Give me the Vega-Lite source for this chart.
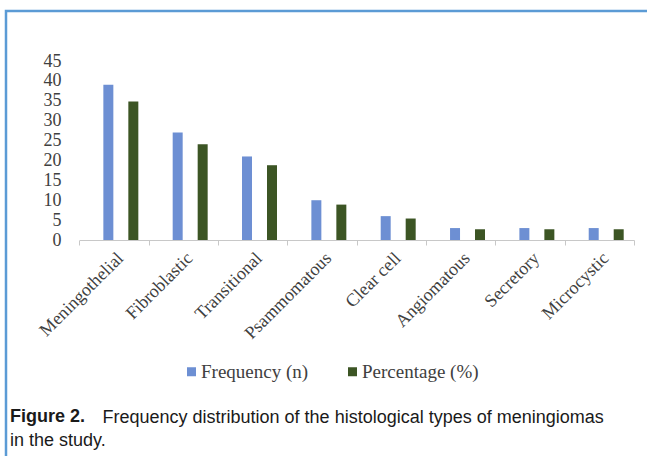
{
  "$schema": "https://vega.github.io/schema/vega-lite/v6.json",
  "autosize": "none",
  "width": 645,
  "height": 450,
  "padding": {"left": 6, "top": 11, "right": 0, "bottom": 0},
  "background": "white",
  "title": {
    "text": "Figure 2.",
    "orient": "bottom",
    "anchor": "start",
    "frame": "group",
    "offset": -53,
    "dx": 4,
    "font": "Liberation Sans",
    "fontSize": 18,
    "fontWeight": "bold",
    "color": "#1a1a1a",
    "subtitle": "in the study.",
    "subtitleFont": "Liberation Sans",
    "subtitleFontSize": 18,
    "subtitleColor": "#1a1a1a",
    "subtitlePadding": 6
  },
  "data": {
    "values": [
      {"type": "Meningothelial", "series": "Frequency (n)", "value": 39},
      {"type": "Meningothelial", "series": "Percentage (%)", "value": 34.8},
      {"type": "Fibroblastic", "series": "Frequency (n)", "value": 27},
      {"type": "Fibroblastic", "series": "Percentage (%)", "value": 24.1},
      {"type": "Transitional", "series": "Frequency (n)", "value": 21},
      {"type": "Transitional", "series": "Percentage (%)", "value": 18.8},
      {"type": "Psammomatous", "series": "Frequency (n)", "value": 10},
      {"type": "Psammomatous", "series": "Percentage (%)", "value": 8.9},
      {"type": "Clear cell", "series": "Frequency (n)", "value": 6},
      {"type": "Clear cell", "series": "Percentage (%)", "value": 5.4},
      {"type": "Angiomatous", "series": "Frequency (n)", "value": 3},
      {"type": "Angiomatous", "series": "Percentage (%)", "value": 2.7},
      {"type": "Secretory", "series": "Frequency (n)", "value": 3},
      {"type": "Secretory", "series": "Percentage (%)", "value": 2.7},
      {"type": "Microcystic", "series": "Frequency (n)", "value": 3},
      {"type": "Microcystic", "series": "Percentage (%)", "value": 2.7}
    ]
  },
  "mark": {"type": "bar"},
  "encoding": {
    "x": {
      "field": "type",
      "type": "nominal",
      "sort": null,
      "scale": {"range": [73.3, 628], "paddingInner": 0, "paddingOuter": 0},
      "axis": {
        "title": "Frequency distribution of the histological types of meningiomas",
        "titleFont": "Liberation Sans",
        "titleFontSize": 18,
        "titleFontWeight": "normal",
        "titleColor": "#1a1a1a",
        "titleAnchor": "start",
        "titleAlign": "left",
        "titleBaseline": "top",
        "titleX": 96,
        "titleY": 168,
        "labelAngle": -45,
        "labelFont": "Liberation Serif",
        "labelFontSize": 18,
        "labelColor": "#404040",
        "domainColor": "#c8c8c8",
        "tickColor": "#c8c8c8",
        "tickSize": 5,
        "tickBand": "extent",
        "labelPadding": 4,
        "offset": -221,
        "grid": false
      }
    },
    "xOffset": {
      "field": "series",
      "type": "nominal",
      "scale": {"domain": ["Frequency (n)", "Percentage (%)"], "paddingInner": 0.6, "paddingOuter": 0.6875, "align": 0.7}
    },
    "y": {
      "field": "value",
      "type": "quantitative",
      "scale": {"domain": [0, 45], "range": [229, 50], "nice": false},
      "axis": {
        "title": null,
        "values": [0, 5, 10, 15, 20, 25, 30, 35, 40, 45],
        "domain": false,
        "ticks": false,
        "tickSize": 0,
        "grid": false,
        "labelFont": "Liberation Serif",
        "labelFontSize": 18,
        "labelColor": "#404040",
        "labelPadding": 0,
        "labelOverlap": false,
        "offset": -55
      }
    },
    "color": {
      "field": "series",
      "type": "nominal",
      "scale": {"domain": ["Frequency (n)", "Percentage (%)"], "range": ["#6d8fd3", "#3c5524"]},
      "legend": {
        "orient": "none",
        "legendX": 176,
        "legendY": 351,
        "direction": "horizontal",
        "title": null,
        "symbolType": "square",
        "symbolSize": 81,
        "symbolStrokeWidth": 0,
        "labelFont": "Liberation Serif",
        "labelFontSize": 19,
        "labelColor": "#404040",
        "labelOffset": 0,
        "columnPadding": 34
      }
    }
  },
  "config": {"view": {"stroke": "#5b9bd5", "strokeWidth": 2.5}}
}
